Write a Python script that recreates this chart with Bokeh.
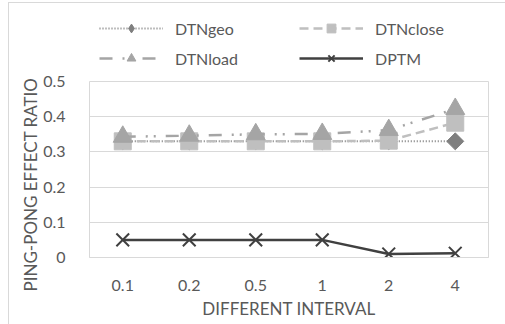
import math
from bokeh.plotting import figure
from bokeh.layouts import column
from bokeh.models import Legend, LegendItem, FixedTicker, Title, Range1d
from bokeh.embed import file_html
from bokeh.resources import INLINE

categories = ["0.1", "0.2", "0.5", "1", "2", "4"]
dtn_geo = [0.33, 0.33, 0.33, 0.33, 0.33, 0.33]
dtn_close = [0.33, 0.33, 0.33, 0.33, 0.332, 0.383]
dtn_load = [0.343, 0.346, 0.35, 0.351, 0.362, 0.422]
dptm = [0.05, 0.05, 0.05, 0.05, 0.01, 0.012]
y_ticks = [0, 0.1, 0.2, 0.3, 0.4, 0.5]
y_tick_labels = ["0", "0.1", "0.2", "0.3", "0.4", "0.5"]

FONT = "Lato"
TXT = "#595959"
BORDER = "#d9d9d9"
c_geo, c_close, c_load, c_dptm = "#7f7f7f", "#bfbfbf", "#a5a5a5", "#404040"

styles = {
    "geo": dict(line=dict(line_color=c_geo, line_width=2, line_dash="1 2"),
                mark=dict(marker="square", size=12, angle=math.pi / 4, color=c_geo)),
    "close": dict(line=dict(line_color=c_close, line_width=2.5, line_dash="9 5"),
                  mark=dict(marker="square", size=17, color=c_close)),
    "load": dict(line=dict(line_color=c_load, line_width=2.5, line_dash="13 10 2 6 2 10"),
                 mark=dict(marker="triangle", size=19, color=c_load)),
    "dptm": dict(line=dict(line_color=c_dptm, line_width=2.5),
                 mark=dict(marker="x", size=18, line_color=c_dptm, line_width=2)),
}
legend_marks = dict(styles)
legend_marks["geo"] = dict(line=styles["geo"]["line"],
                           mark=dict(marker="diamond", size=14, color=c_geo))
series = {"geo": dtn_geo, "close": dtn_close, "load": dtn_load, "dptm": dptm}
names = {"geo": "DTNgeo", "close": "DTNclose", "load": "DTNload", "dptm": "DPTM"}

# ---- main chart ----
p = figure(x_range=categories, y_range=(0, 0.5), width=497, height=254,
           output_backend="svg", toolbar_location=None,
           min_border_left=80, min_border_right=18, min_border_bottom=68, min_border_top=10)

p.outline_line_color = BORDER
p.outline_line_width = 1
p.xgrid.grid_line_color = None
p.ygrid.grid_line_color = BORDER
p.ygrid.grid_line_width = 1

p.yaxis.ticker = FixedTicker(ticks=y_ticks)
p.yaxis.major_label_overrides = {t: l for t, l in zip(y_ticks, y_tick_labels)}
for ax in (p.xaxis, p.yaxis):
    ax.axis_line_color = None
    ax.major_tick_line_color = None
    ax.minor_tick_line_color = None
    ax.major_label_text_font = FONT
    ax.major_label_text_font_size = "16px"
    ax.major_label_text_color = TXT
    ax.axis_label_text_font = FONT
    ax.axis_label_text_font_size = "17px"
    ax.axis_label_text_color = TXT
    ax.axis_label_text_font_style = "normal"
p.xaxis.axis_line_color = BORDER
p.xaxis.major_label_standoff = 16
p.yaxis.major_label_standoff = 18
p.xaxis.axis_label = "DIFFERENT INTERVAL"
p.xaxis.axis_label_standoff = 4

ytitle = Title(text="PING-PONG EFFECT RATIO", align="left", offset=-34, standoff=0,
               text_font=FONT, text_font_size="17px", text_font_style="normal",
               text_color=TXT)
p.add_layout(ytitle, "left")

for key in ["geo", "close", "load", "dptm"]:
    p.line(categories, series[key], **styles[key]["line"])
    p.scatter(categories, series[key], **styles[key]["mark"])

# ---- legend strip (same series, drawn outside its visible range) ----
lg = figure(width=497, height=68, output_backend="svg", toolbar_location=None,
            x_range=categories, y_range=Range1d(10, 11),
            x_axis_location=None, y_axis_location=None,
            min_border_left=0, min_border_right=0, min_border_top=0, min_border_bottom=0)
lg.outline_line_color = None
lg.grid.grid_line_color = None

items = []
for key in ["geo", "load", "close", "dptm"]:
    r1 = lg.line(categories, series[key], **legend_marks[key]["line"])
    r2 = lg.scatter(categories, series[key], **legend_marks[key]["mark"])
    items.append(LegendItem(label=names[key], renderers=[r1, r2]))

legend = Legend(items=items, ncols=2, location=(10, 2))
legend.glyph_width = 64
legend.glyph_height = 22
legend.label_standoff = 12
legend.label_width = 116
legend.label_height = 22
legend.spacing = 8
legend.padding = 0
legend.margin = 0
legend.border_line_color = None
legend.background_fill_alpha = 0
legend.label_text_font = FONT
legend.label_text_font_size = "16px"
legend.label_text_color = TXT
lg.add_layout(legend, "center")

layout = column(lg, p, spacing=0, margin=(2, 0, 0, 8),
                styles={"border-left": "1px solid " + BORDER, "border-top": "1px solid " + BORDER})

open("out.html", "w").write(file_html(layout, INLINE))
